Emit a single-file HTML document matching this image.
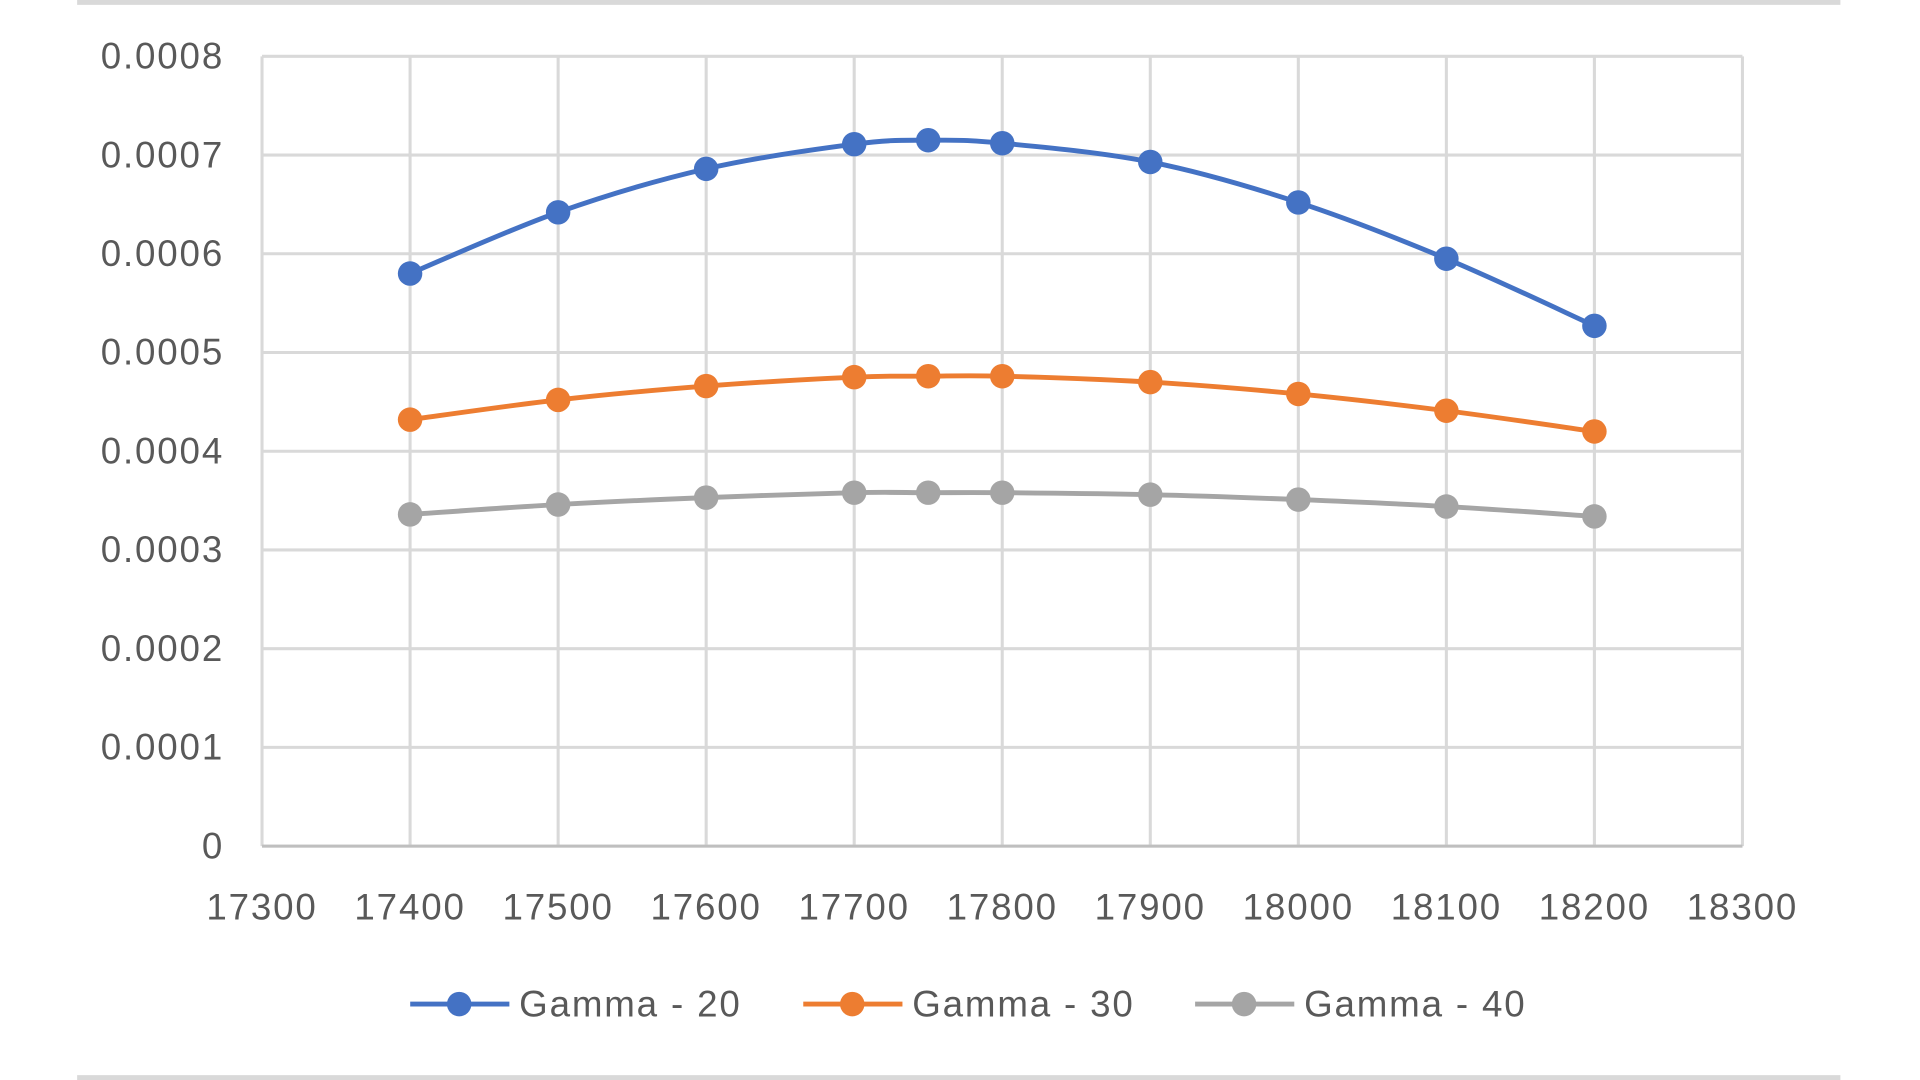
<!DOCTYPE html>
<html><head><meta charset="utf-8"><style>
html,body{margin:0;padding:0;background:#fff;width:1920px;height:1080px;overflow:hidden}
svg{display:block}
text{font-family:"Liberation Sans",sans-serif;fill:#595959;font-size:30px;letter-spacing:1.5px}
</style></head><body>
<svg id="s" width="1920" height="1080" viewBox="0 0 1568 882" preserveAspectRatio="none">
<line x1="63" y1="2" x2="1503" y2="2" stroke="#d9d9d9" stroke-width="4"/>
<line x1="63" y1="880" x2="1503" y2="880" stroke="#d9d9d9" stroke-width="4"/>
<g id="g"></g>
</svg>
<script>
var ns="http://www.w3.org/2000/svg",g=document.getElementById("g");
function el(t,a,txt){var e=document.createElementNS(ns,t);for(var k in a)e.setAttribute(k,a[k]);if(txt!=null)e.textContent=txt;g.appendChild(e);return e;}
var L=214,R=1423,T=46,B=691;
function X(v){return L+(v-17300)/1000*(R-L);}
function Y(v){return B-v/0.0008*(B-T);}
for(var i=0;i<=8;i++){var y=Y(i*0.0001);el("line",{x1:L,x2:R,y1:y,y2:y,stroke:"#d9d9d9","stroke-width":2.5});
el("text",{x:183,y:y+10,"text-anchor":"end"},i==0?"0":(i*0.0001).toFixed(4));}
for(var v=17300;v<=18300;v+=100){var x=X(v);el("line",{x1:x,x2:x,y1:T,y2:B,stroke:"#d9d9d9","stroke-width":2.5});
el("text",{x:x,y:751,"text-anchor":"middle"},v);}
el("line",{x1:L,x2:R,y1:B,y2:B,stroke:"#bfbfbf","stroke-width":2.5});
var xs=[17400,17500,17600,17700,17750,17800,17900,18000,18100,18200];
var S=[["#4472c4",[0.00058,0.000642,0.000686,0.000711,0.000715,0.000712,0.000693,0.000652,0.000595,0.000527]],
["#ed7d31",[0.000432,0.000452,0.000466,0.000475,0.000476,0.000476,0.00047,0.000458,0.000441,0.00042]],
["#a5a5a5",[0.000336,0.000346,0.000353,0.000358,0.000358,0.000358,0.000356,0.000351,0.000344,0.000334]]];
S.forEach(function(s){var p=xs.map(function(x,i){return [X(x),Y(s[1][i])];});
var d="M"+p[0][0]+","+p[0][1];
for(var i=0;i<p.length-1;i++){var p0=p[i-1]||p[i],p1=p[i],p2=p[i+1],p3=p[i+2]||p2;
d+=" C"+(p1[0]+(p2[0]-p0[0])/6)+","+(p1[1]+(p2[1]-p0[1])/6)+" "+(p2[0]-(p3[0]-p1[0])/6)+","+(p2[1]-(p3[1]-p1[1])/6)+" "+p2[0]+","+p2[1];}
el("path",{d:d,fill:"none",stroke:s[0],"stroke-width":4});
p.forEach(function(q){el("circle",{cx:q[0],cy:q[1],r:10,fill:s[0]});});});
var lg=[[335,"Gamma - 20"],[656,"Gamma - 30"],[976,"Gamma - 40"]];
lg.forEach(function(l,i){var c=S[i][0];el("line",{x1:l[0],x2:l[0]+81,y1:820,y2:820,stroke:c,"stroke-width":4});
el("circle",{cx:l[0]+40,cy:820,r:10,fill:c});el("text",{x:l[0]+89,y:830},l[1]);});
</script>
</body></html>
